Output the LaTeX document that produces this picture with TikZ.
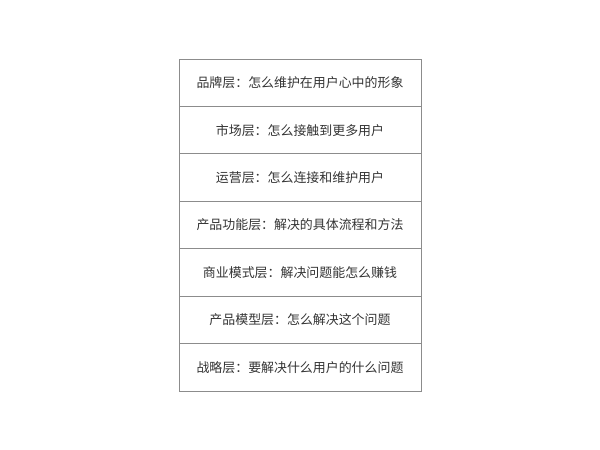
\documentclass[tikz,border=0pt]{standalone}
\usepackage{fontspec}
\newfontfamily\cjk{Noto Sans CJK SC}
\usetikzlibrary{positioning}
\definecolor{edgegray}{HTML}{8C8C8C}
\definecolor{textgray}{HTML}{333333}
\tikzset{
  layer/.style={draw=edgegray, line width=0.6pt, minimum width=6.05cm, minimum height=1.186cm,
    inner sep=0pt, outer sep=0pt, font=\cjk\fontsize{9.2pt}{11pt}\selectfont, text=textgray}
}
\begin{document}
\begin{tikzpicture}
  \useasboundingbox (0,0) rectangle (15,-11.25);
  \node[layer] (brand) at (7.5,-2.068) {品牌层：怎么维护在用户心中的形象};
  \node[layer, below=0pt of brand] (market) {市场层：怎么接触到更多用户};
  \node[layer, below=0pt of market] (operate) {运营层：怎么连接和维护用户};
  \node[layer, below=0pt of operate] (feature) {产品功能层：解决的具体流程和方法};
  \node[layer, below=0pt of feature] (business) {商业模式层：解决问题能怎么赚钱};
  \node[layer, below=0pt of business] (model) {产品模型层：怎么解决这个问题};
  \node[layer, below=0pt of model] (strategy) {战略层：要解决什么用户的什么问题};
\end{tikzpicture}
\end{document}
